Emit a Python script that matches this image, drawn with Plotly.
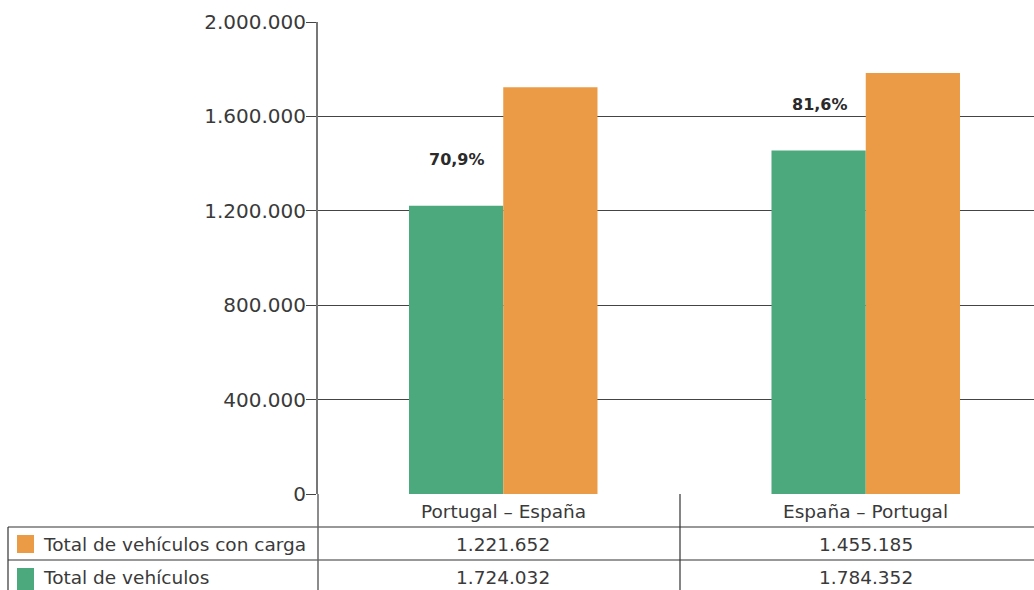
import plotly.graph_objects as go

categories = ["Portugal – España", "España – Portugal"]
con_carga = [1221652, 1455185]
total = [1724032, 1784352]
row_labels = ["Total de vehículos con carga", "Total de vehículos"]
y_ticks = [0, 400000, 800000, 1200000, 1600000, 2000000]

GREEN = "#4CA97D"
ORANGE = "#EB9B45"
TXT = "#3a3a3a"
FONT = "DejaVu Sans"

W, H = 1034, 590
ML, MR, MT, MB = 318, 0, 22, 96
PW, PH = W - ML - MR, H - MT - MB

def px(x):
    return (x - ML) / PW

def py(y):
    return (H - MB - y) / PH

def fmt(v):
    return f"{v:,}".replace(",", ".")

xs = list(range(len(categories)))

fig = go.Figure()
fig.add_trace(go.Bar(x=xs, y=con_carga, marker=dict(color=GREEN, line=dict(width=0)),
                     name=row_labels[0], hoverinfo="y"))
fig.add_trace(go.Bar(x=xs, y=total, marker=dict(color=ORANGE, line=dict(width=0)),
                     name=row_labels[1], hoverinfo="y"))

# ratio labels
for i in xs:
    r = con_carga[i] / total[i] * 100
    fig.add_annotation(x=i, y=con_carga[i], xref="x", yref="y",
                       text=f"<b>{r:.1f}".replace(".", ",") + "%</b>",
                       showarrow=False, xshift=-46, yshift=46,
                       font=dict(family=FONT, size=16, color="#2a2a2a"))

shapes = []
line_col = "#333333"
# table horizontal lines
for yy in [527, 560]:
    shapes.append(dict(type="line", xref="paper", yref="paper", x0=px(8), x1=1.02,
                       y0=py(yy), y1=py(yy), line=dict(color=line_col, width=1.2)))
# table vertical lines
shapes.append(dict(type="line", xref="paper", yref="paper", x0=px(8), x1=px(8),
                   y0=py(527), y1=py(592), line=dict(color=line_col, width=1.2)))
shapes.append(dict(type="line", xref="paper", yref="paper", x0=0, x1=0,
                   y0=py(494), y1=py(592), line=dict(color="#666666", width=1.5)))
shapes.append(dict(type="line", xref="paper", yref="paper", x0=px(680), x1=px(680),
                   y0=py(494), y1=py(592), line=dict(color=line_col, width=1.2)))
# legend swatches (as in the reference)
sw_cols = [ORANGE, GREEN]
sw_y = [(535, 553), (568, 590)]
for c, (a, b) in zip(sw_cols, sw_y):
    shapes.append(dict(type="rect", xref="paper", yref="paper", x0=px(17), x1=px(34),
                       y0=py(b), y1=py(a), fillcolor=c, line=dict(width=0)))

# table text
TS = 18.5
for i, c in enumerate(categories):
    for txt, yy in [(c, 511), (fmt(con_carga[i]), 544), (fmt(total[i]), 577)]:
        fig.add_annotation(x=i, y=py(yy), xref="x", yref="paper", text=txt,
                           showarrow=False, xanchor="center", yanchor="middle",
                           font=dict(family=FONT, size=TS, color=TXT))
for lab, yy in zip(row_labels, [544, 577]):
    fig.add_annotation(x=px(41), y=py(yy), xref="paper", yref="paper", text=lab,
                       showarrow=False, xanchor="left", yanchor="middle",
                       font=dict(family=FONT, size=TS, color=TXT))

fig.update_layout(
    width=W, height=H,
    margin=dict(l=ML, r=MR, t=MT, b=MB, pad=0),
    paper_bgcolor="white", plot_bgcolor="white",
    barmode="group", bargap=0.48, bargroupgap=0,
    showlegend=False,
    separators=",.",
    shapes=shapes,
    font=dict(family=FONT, color=TXT),
    xaxis=dict(range=[-0.511, -0.511 + PW / 362.5], showticklabels=False, showgrid=False,
               zeroline=False, showline=False, ticks=""),
    yaxis=dict(range=[0, 2000000], tickvals=y_ticks, ticktext=[fmt(v) for v in y_ticks],
               showgrid=True, gridcolor="#444444", gridwidth=1.3,
               ticks="outside", ticklen=10, tickcolor="#444444", tickwidth=1.3,
               showline=True, linecolor="#777777", linewidth=2,
               zeroline=False, ticklabelstandoff=-4,
               tickfont=dict(family=FONT, size=20, color=TXT)),
)

fig.write_html("out.html", config={"displayModeBar": False},
               post_script="document.body.style.margin='0';document.body.style.overflow='hidden';")
